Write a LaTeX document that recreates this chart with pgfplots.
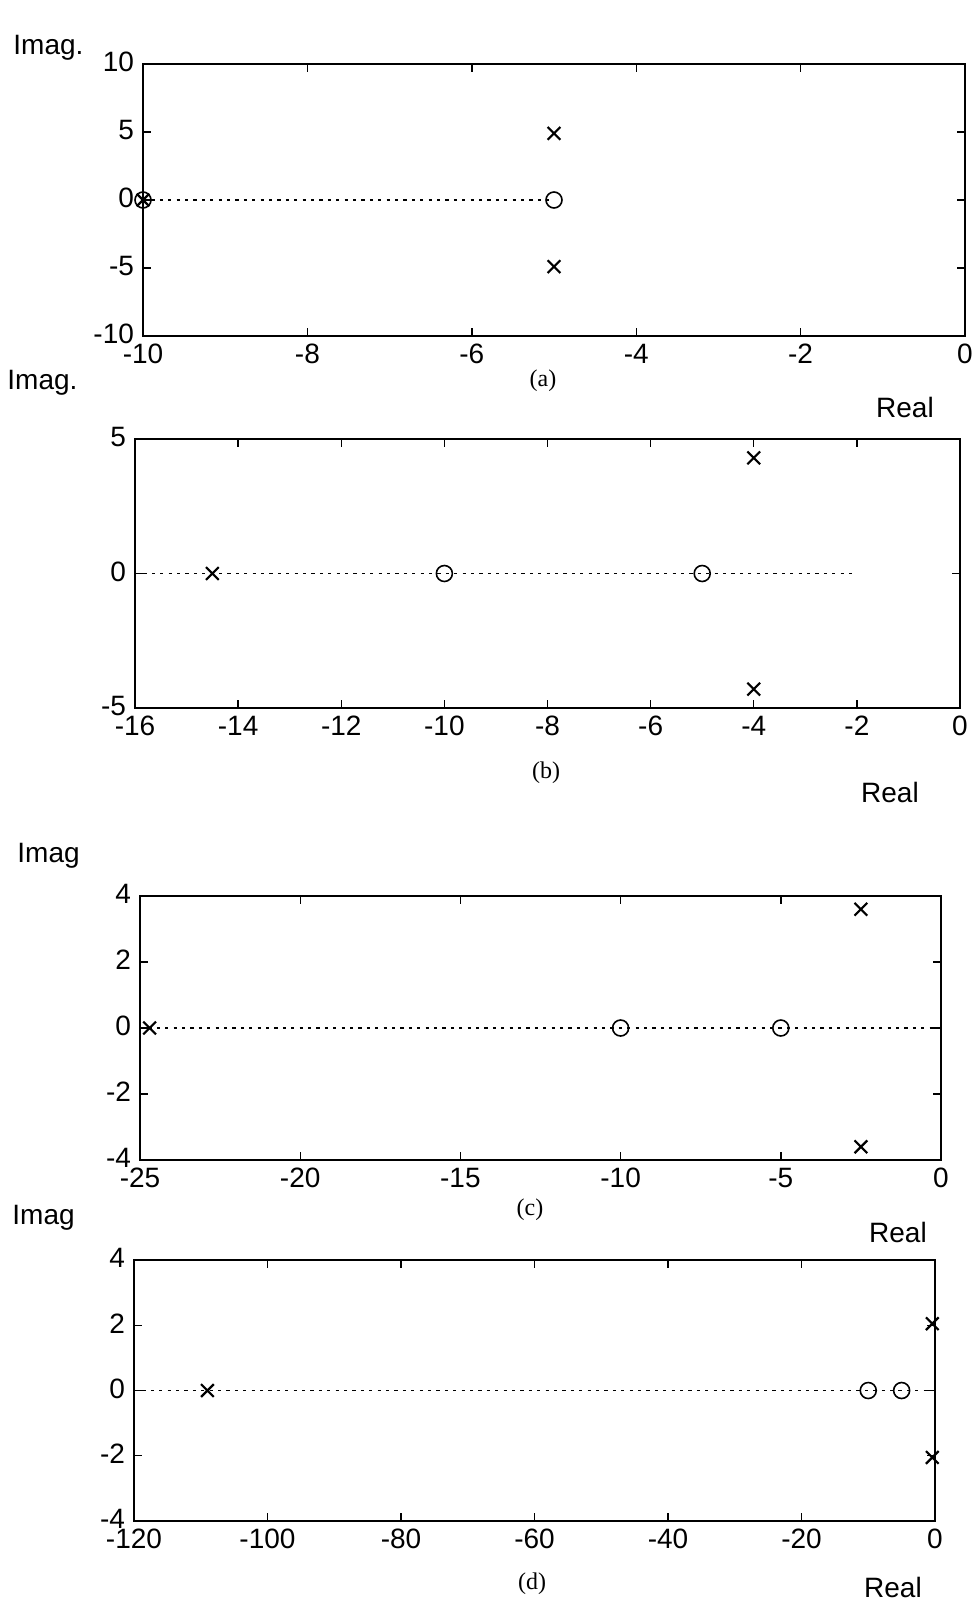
\documentclass[border=0pt]{standalone}
\usepackage{pgfplots}
\pgfplotsset{compat=1.18}
\usepackage{fontspec}
\setmainfont{Liberation Sans}
\newfontfamily\serif{Liberation Serif}

\pgfplotsset{
  pz/.style={
    scale only axis, anchor=south west, clip=false,
    axis line style={line width=1.1pt},
    tick style={line width=0.7pt, black},
    major tick length=4pt,
    /pgf/number format/assume math mode=true,
    tick label style={font=\fontsize{14}{16}\selectfont},
    xticklabel style={yshift=-0.5pt},
    yticklabel style={xshift=-1pt, yshift=1pt},
  },
  locus/.style={black, line width=0.6pt, dash pattern=on 1.6pt off 2.6pt, no marks},
  poles/.style={black, only marks, mark=x, mark size=4.5pt, mark options={line width=1.1pt}},
  zeros/.style={black, only marks, mark=o, mark size=4pt, mark options={line width=0.8pt}},
}

\begin{document}
\begin{tikzpicture}
\path (0pt,0pt) rectangle (486.5pt,-801pt);

% (a)
\begin{axis}[pz, at={(71.5pt,-168pt)}, width=411pt, height=136pt,
  xmin=-10, xmax=0, ymin=-10, ymax=10,
  xtick={-10,-8,-6,-4,-2,0}, ytick={-10,-5,0,5,10}]
  \addplot[locus] coordinates {(-10,0) (-5,0)};
  \addplot[zeros] coordinates {(-10,0) (-5,0)};
  \addplot[poles] coordinates {(-10,0) (-5,4.9) (-5,-4.9)};
\end{axis}

% (b)
\begin{axis}[pz, at={(67.5pt,-354pt)}, width=412.5pt, height=134.5pt,
  xmin=-16, xmax=0, ymin=-5, ymax=5,
  xtick={-16,-14,-12,-10,-8,-6,-4,-2,0}, ytick={-5,0,5}]
  \addplot[locus] coordinates {(-16,0) (-2,0)};
  \addplot[zeros] coordinates {(-10,0) (-5,0)};
  \addplot[poles] coordinates {(-14.5,0) (-4,4.3) (-4,-4.3)};
\end{axis}

% (c)
\begin{axis}[pz, at={(70pt,-580pt)}, width=400.5pt, height=132pt,
  xmin=-25, xmax=0, ymin=-4, ymax=4,
  xtick={-25,-20,-15,-10,-5,0}, ytick={-4,-2,0,2,4}]
  \addplot[locus] coordinates {(-25,0) (0,0)};
  \addplot[zeros] coordinates {(-10,0) (-5,0)};
  \addplot[poles] coordinates {(-24.7,0) (-2.5,3.6) (-2.5,-3.6)};
\end{axis}

% (d)
\begin{axis}[pz, at={(67pt,-760.5pt)}, width=400.5pt, height=130.5pt,
  xmin=-120, xmax=0, ymin=-4, ymax=4,
  xtick={-120,-100,-80,-60,-40,-20,0}, ytick={-4,-2,0,2,4}]
  \addplot[locus] coordinates {(-120,0) (0,0)};
  \addplot[zeros] coordinates {(-10,0) (-5,0)};
  \addplot[poles] coordinates {(-109,0) (-0.4,2.05) (-0.4,-2.05)};
\end{axis}

\begin{scope}[every node/.style={inner sep=0pt, font=\fontsize{14}{16}\selectfont}]
\node[anchor=west] at (6.5pt,-24pt) {Imag.};
\node at (452.5pt,-203.5pt) {Real};
\node[font=\serif\fontsize{12}{14}\selectfont] at (271.5pt,-190.5pt) {(a)};

\node[anchor=west] at (3.5pt,-191.5pt) {Imag.};
\node[font=\serif\fontsize{12}{14}\selectfont] at (273pt,-386.5pt) {(b)};
\node at (445pt,-396pt) {Real};

\node[anchor=west] at (8.5pt,-428pt) {Imag};
\node[font=\serif\fontsize{12}{14}\selectfont] at (265pt,-605pt) {(c)};
\node at (449pt,-616pt) {Real};

\node[anchor=west] at (6pt,-609pt) {Imag};
\node[font=\serif\fontsize{12}{14}\selectfont] at (266pt,-792pt) {(d)};
\node at (446.5pt,-793.5pt) {Real};
\end{scope}
\end{tikzpicture}
\end{document}
